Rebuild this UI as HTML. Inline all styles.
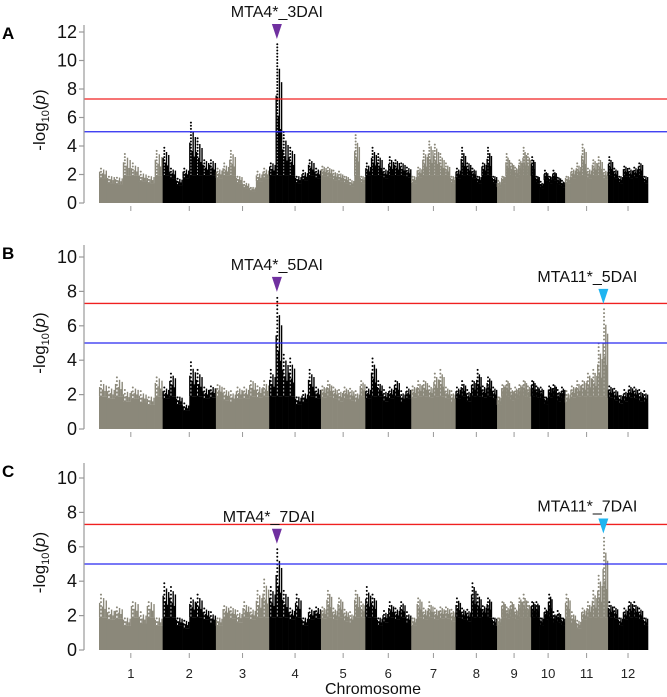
<!DOCTYPE html>
<html><head><meta charset="utf-8"><style>
html,body{margin:0;padding:0;background:#fff;}
svg{display:block;font-family:"Liberation Sans",Arial,sans-serif;}
</style></head><body>
<svg id="chart" width="667" height="697" viewBox="0 0 667 697" xmlns="http://www.w3.org/2000/svg"></svg>
<script>
const chromosomes = ["1","2","3","4","5","6","7","8","9","10","11","12"];
const chromLengths = [43,36,36,35,30,31,30,28,23,23,29,27];
const panelA = [
 [2.5,2.0,1.9,3.5,2.8,2.2,2.0,3.8],
 [4.0,2.5,1.8,2.5,5.8,4.7,3.2,3.2],
 [2.5,2.8,3.8,2.0,1.5,1.2,2.2,2.5],
 [3.0,11.3,5.0,4.1,2.0,2.3,3.2,2.5],
 [2.7,2.6,2.3,2.2,2.0,1.7,4.8,2.0],
 [2.8,4.0,3.5,2.5,3.3,3.2,3.0,2.6],
 [2.0,2.6,3.8,4.5,4.3,3.5,2.8,2.0],
 [2.5,3.9,3.0,2.5,2.0,3.0,3.9,2.0],
 [1.6,2.0,3.5,3.0,2.6,3.2,4.0,3.5],
 [3.3,2.0,1.5,2.3,2.0,2.3,1.9,1.6],
 [2.0,2.5,2.8,4.3,2.5,3.2,3.3,2.4],
 [3.3,2.5,2.0,2.7,2.5,2.6,3.0,2.0]
];
const panelB = [
 [2.8,2.5,3.1,2.3,2.5,2.2,2.0,3.2],
 [2.5,3.4,2.0,1.5,3.9,3.5,2.5,2.6],
 [2.7,2.4,2.2,2.5,2.5,3.0,2.6,2.8],
 [3.5,7.8,4.5,4.2,2.0,2.2,3.5,2.5],
 [2.6,2.8,2.5,2.3,2.5,2.4,2.2,2.9],
 [2.5,4.2,2.8,2.3,2.5,3.0,2.2,2.5],
 [2.6,2.8,3.0,2.6,3.3,3.5,2.5,2.2],
 [2.5,2.8,2.3,3.0,3.5,2.6,3.2,2.5],
 [2.0,2.7,3.0,2.4,2.5,2.7,3.0,2.6],
 [3.0,2.6,2.5,2.0,2.6,2.7,2.3,2.5],
 [2.2,2.6,2.8,3.0,3.4,3.6,5.0,7.1],
 [2.6,2.4,2.1,2.3,2.6,2.5,2.3,2.2]
];
const panelC = [
 [3.3,2.5,2.6,2.0,3.0,2.2,3.0,2.0],
 [4.0,3.8,2.0,1.8,3.2,3.3,2.5,2.2],
 [2.0,2.7,2.6,2.3,2.8,2.5,3.5,4.2],
 [3.8,6.0,3.6,2.5,3.3,2.0,2.5,2.6],
 [2.6,3.6,2.5,3.2,2.4,2.2,3.6,2.9],
 [3.7,3.3,2.0,2.3,2.8,2.5,2.9,2.2],
 [2.0,3.2,2.5,2.8,2.5,2.6,2.6,2.4],
 [3.1,2.5,2.4,4.1,3.4,2.7,3.2,2.0],
 [2.0,3.0,2.6,3.0,2.5,3.2,3.3,2.8],
 [3.0,2.9,2.0,2.5,3.4,2.2,2.3,2.0],
 [3.3,2.2,1.8,2.5,2.8,3.5,4.5,6.6],
 [2.8,2.6,2.0,2.5,3.0,2.8,2.5,2.0]
];
const yTicksA = [0,2,4,6,8,10,12];
const yTicksBC = [0,2,4,6,8,10];
const redThreshold = 7.3;
const blueThreshold = 5;
const annotations = [
 {panel:0, chrom:3, bin:1, label:"MTA4*_3DAI", color:"#7030a0", dx:0},
 {panel:1, chrom:3, bin:1, label:"MTA4*_5DAI", color:"#7030a0", dx:0},
 {panel:1, chrom:10, bin:7, label:"MTA11*_5DAI", color:"#1eb4f0", dx:-16},
 {panel:2, chrom:3, bin:1, label:"MTA4*_7DAI", color:"#7030a0", dx:-8},
 {panel:2, chrom:10, bin:7, label:"MTA11*_7DAI", color:"#1eb4f0", dx:-16}
];
const NS="http://www.w3.org/2000/svg";
const svg=document.getElementById('chart');
const X0=99, X1=648, AXX=84;
const total=chromLengths.reduce((a,b)=>a+b,0);
const starts=[];{let s=0;for(const l of chromLengths){starts.push(s);s+=l;}}
function xPos(g){return X0+(X1-X0)*g/total;}
const panels=[
 {data:panelA, zero:203, ppu:14.25, ticks:yTicksA, top:25, letter:"A"},
 {data:panelB, zero:429, ppu:17.2, ticks:yTicksBC, top:245, letter:"B"},
 {data:panelC, zero:650, ppu:17.2, ticks:yTicksBC, top:463, letter:"C"}
];
function mk(tag,attrs,parent){const e=document.createElementNS(NS,tag);for(const k in attrs)e.setAttribute(k,attrs[k]);(parent||svg).appendChild(e);return e;}
const subFactors=[0.6,1.0,0.45,0.8,0.35,0.7];
panels.forEach((p,pi)=>{
  const yS=v=>p.zero-v*p.ppu;
  const g=mk('g',{});
  
  
  chromosomes.forEach((c,ci)=>{
    const col=ci%2===0?"#8b887a":"#000";
    const cg=mk('g',{fill:col},g);
    
    
    const bins=p.data[ci];
    const bw=chromLengths[ci]/bins.length;
    bins.forEach((v,bi)=>{
      const gx0=xPos(starts[ci]+bi*bw), gx1=xPos(starts[ci]+(bi+1)*bw);
      const w=gx1-gx0;
      const base=Math.min(v*0.7,1.9);
      const r=mk('rect',{x:gx0,y:yS(base),width:w+0.3,height:base*p.ppu},cg);
      
      
      const n=subFactors.length;
      for(let k=0;k<n;k++){
        const h=base+(v-base)*subFactors[k];
        const sx=gx0+w*(k+0.5)/n;
        if(subFactors[k]===1.0){
          for(let y=base; y<=v; y+=0.22){
            const d=mk('circle',{cx:sx,cy:yS(y),r:1.0},cg);
            
            
          }
        } else {
          const rr=mk('rect',{x:sx-0.7,y:yS(h),width:1.4,height:(h-base)*p.ppu},cg);
          
          
        }
      }
    });
  });
  const rl=mk('line',{x1:AXX,x2:667,y1:yS(redThreshold),y2:yS(redThreshold),stroke:"#f02020","stroke-width":1.3});
  
  
  const bl=mk('line',{x1:AXX,x2:667,y1:yS(blueThreshold),y2:yS(blueThreshold),stroke:"#2828f0","stroke-width":1.3});
  
  
  const ax=mk('line',{x1:AXX,x2:AXX,y1:p.top,y2:p.zero,stroke:"#999","stroke-width":1.2});
  
  
  p.ticks.forEach(t=>{
    const tk=mk('line',{x1:AXX-5,x2:AXX,y1:yS(t),y2:yS(t),stroke:"#999","stroke-width":1.2});
    
    
    const tl=mk('text',{x:AXX-7,y:yS(t)+6,"text-anchor":"end","font-size":18,fill:"#111"});
    tl.textContent=t;
    
    
  });
  chromosomes.forEach((c,ci)=>{
    const cx=xPos(starts[ci]+chromLengths[ci]/2);
    const xt=mk('line',{x1:cx,x2:cx,y1:p.zero+3,y2:p.zero+8,stroke:"#999","stroke-width":1});
    
    
    if(pi===2){
      const xl=mk('text',{x:cx,y:678,"text-anchor":"middle","font-size":13,fill:"#222"});
      xl.textContent=c;
      
      
    }
  });
  const ty=(p.top+p.zero)/2+6;
  const tt=mk('text',{x:0,y:0,transform:`translate(45,${ty}) rotate(-90)`,"text-anchor":"middle","font-size":17,fill:"#111"});
  tt.innerHTML='-log<tspan font-size="11" dy="4">10</tspan><tspan dy="-4">(</tspan><tspan font-style="italic">p</tspan>)';
  
  
  const pl=mk('text',{x:2,y:p.top+14,"font-size":17,"font-weight":"bold",fill:"#000"});
  pl.textContent=p.letter;
  
  
  annotations.filter(a=>a.panel===pi).forEach(a=>{
    const bw=chromLengths[a.chrom]/8;
    const cx=xPos(starts[a.chrom]+(a.bin+0.5)*bw)-2;
    const peak=p.data[a.chrom][a.bin];
    const tipY=yS(peak)-3;
    const tri=mk('polygon',{points:`${cx-5},${tipY-15} ${cx+5},${tipY-15} ${cx},${tipY}`,fill:a.color});
    
    
    const lb=mk('text',{x:cx+a.dx,y:tipY-22,"text-anchor":"middle","font-size":16,fill:"#111"});
    lb.textContent=a.label;
    
    
  });
});
const xt=mk('text',{x:373,y:694,"text-anchor":"middle","font-size":16,fill:"#111"});
xt.textContent="Chromosome";


</script>
</body></html>
